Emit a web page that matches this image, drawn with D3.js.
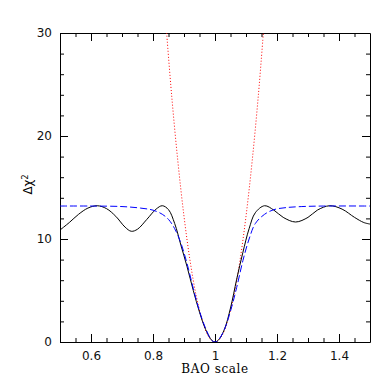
<!DOCTYPE html>
<html>
<head>
<meta charset="utf-8">
<script src="https://cdn.jsdelivr.net/npm/d3@7"></script>
<style>
  body { margin: 0; background: #fff; }
  svg { display: block; }
</style>
</head>
<body>
<div id="body"></div>
<script>
// black solid curve (BAO scale, delta chi2)
var solidX = [0.50, 0.53, 0.56, 0.59, 0.62, 0.65, 0.68, 0.71, 0.73, 0.75, 0.78, 0.81, 0.83, 0.85, 0.87, 0.89, 0.91, 0.93, 0.95, 0.97, 0.99, 1.00,
              1.01, 1.03, 1.05, 1.07, 1.09, 1.11, 1.13, 1.16, 1.19, 1.22, 1.26, 1.30, 1.33, 1.37, 1.41, 1.45, 1.48, 1.50];
var solidY = [10.87, 11.6, 12.4, 13.0, 13.23, 12.95, 12.2, 11.15, 10.75, 10.95, 11.9, 12.9, 13.23, 12.85, 11.5, 9.4, 7.3, 5.0, 2.9, 1.2, 0.15, 0,
              0.15, 1.2, 3.3, 6.1, 8.7, 11.0, 12.55, 13.23, 12.8, 12.1, 11.65, 12.1, 12.8, 13.23, 12.9, 12.1, 11.6, 11.45];

// blue dashed curve
var dashX = [0.50, 0.60, 0.70, 0.76, 0.80, 0.83, 0.85, 0.87, 0.89, 0.91, 0.93, 0.95, 0.97, 0.99, 1.00,
             1.01, 1.03, 1.05, 1.07, 1.09, 1.11, 1.13, 1.16, 1.19, 1.23, 1.28, 1.35, 1.50];
var dashY = [13.2, 13.2, 13.15, 13.0, 12.8, 12.4, 11.9, 11.0, 9.6, 7.6, 5.2, 3.0, 1.3, 0.15, 0,
             0.15, 1.2, 3.0, 5.3, 7.9, 10.0, 11.5, 12.4, 12.85, 13.05, 13.15, 13.2, 13.2];

// red dotted curve
var dotX = [0.844, 0.86, 0.88, 0.90, 0.92, 0.94, 0.96, 0.98, 1.00, 1.02, 1.04, 1.06, 1.08, 1.10, 1.12, 1.14, 1.156];
var dotY = [30, 24.0, 17.6, 12.2, 7.8, 4.4, 2.0, 0.5, 0, 0.5, 2.0, 4.4, 7.8, 12.2, 17.6, 24.0, 30];

var xMajor = [0.6, 0.8, 1.0, 1.2, 1.4];
var xMinor = [0.55, 0.65, 0.7, 0.75, 0.85, 0.9, 0.95, 1.05, 1.1, 1.15, 1.25, 1.3, 1.35, 1.45];
var yMajor = [0, 10, 20, 30];
var yMinor = [2, 4, 6, 8, 12, 14, 16, 18, 22, 24, 26, 28];

var margin = { top: 33, right: 20, bottom: 48, left: 60 },
    width = 390 - margin.left - margin.right,
    height = 390 - margin.top - margin.bottom;

var x = d3.scaleLinear().domain([0.5, 1.5]).range([0, width]);
var y = d3.scaleLinear().domain([0, 30]).range([height, 0]);

var svg = d3.select("#body").append("svg")
    .attr("width", 390)
    .attr("height", 390)
    .append("g")
    .attr("transform", "translate(" + margin.left + "," + margin.top + ")");

svg.append("defs").append("clipPath").attr("id", "clip")
    .append("rect").attr("width", width).attr("height", height);

var fmtX = d => d === 1 ? "1" : d3.format(".1f")(d);

var axes = [
    { mk: () => d3.axisBottom(x), tr: "translate(0," + height + ")", maj: xMajor, min: xMinor, fmt: fmtX, pad: 9 },
    { mk: () => d3.axisTop(x), tr: "translate(0,0)", maj: xMajor, min: xMinor },
    { mk: () => d3.axisLeft(y), tr: "translate(0,0)", maj: yMajor, min: yMinor, fmt: d3.format("d"), pad: 8 },
    { mk: () => d3.axisRight(y), tr: "translate(" + width + ",0)", maj: yMajor, min: yMinor }
];

axes.forEach(a => {
    svg.append("g").attr("class", "axis").attr("transform", a.tr)
        .call(a.mk().tickValues(a.maj).tickSizeInner(-8).tickSizeOuter(0)
            .tickPadding(a.pad || 3).tickFormat(a.fmt || ""));
    svg.append("g").attr("class", "axis").attr("transform", a.tr)
        .call(a.mk().tickValues(a.min).tickSizeInner(-4).tickSizeOuter(0).tickFormat(""))
        .select(".domain").remove();
});

svg.selectAll(".axis text")
    .style("font-family", "'DejaVu Sans', sans-serif")
    .style("font-size", "12px")
    .attr("fill", "#111");
svg.selectAll(".axis line, .axis path").attr("stroke", "#000");

var line = d3.line()
    .x(d => x(d[0]))
    .y(d => y(d[1]))
    .curve(d3.curveCatmullRom.alpha(0.5));

var plot = svg.append("g").attr("clip-path", "url(#clip)");

plot.append("path")
    .datum(d3.zip(dotX, dotY))
    .attr("fill", "none")
    .attr("stroke", "#ff0000")
    .attr("stroke-width", 1)
    .attr("stroke-dasharray", "1,2")
    .attr("d", line);

plot.append("path")
    .datum(d3.zip(solidX, solidY))
    .attr("fill", "none")
    .attr("stroke", "#000")
    .attr("stroke-width", 1)
    .attr("d", line);

plot.append("path")
    .datum(d3.zip(dashX, dashY))
    .attr("fill", "none")
    .attr("stroke", "#0000ff")
    .attr("stroke-width", 1)
    .attr("stroke-dasharray", "7,3")
    .attr("d", line);

svg.append("text")
    .attr("x", width / 2)
    .attr("y", height + 31)
    .attr("text-anchor", "middle")
    .style("font-family", "'DejaVu Serif', serif")
    .style("font-size", "12px")
    .style("letter-spacing", "0.6px")
    .text("BAO scale");

var yl = svg.append("text")
    .attr("transform", "translate(-28," + (height / 2 - 3) + ") rotate(-90)")
    .attr("text-anchor", "middle")
    .style("font-family", "'DejaVu Sans', sans-serif")
    .style("font-size", "12px");
yl.append("tspan").text("Δχ");
yl.append("tspan").attr("dy", "-0.45em").style("font-size", "8px").text("2");
</script>
</body>
</html>
